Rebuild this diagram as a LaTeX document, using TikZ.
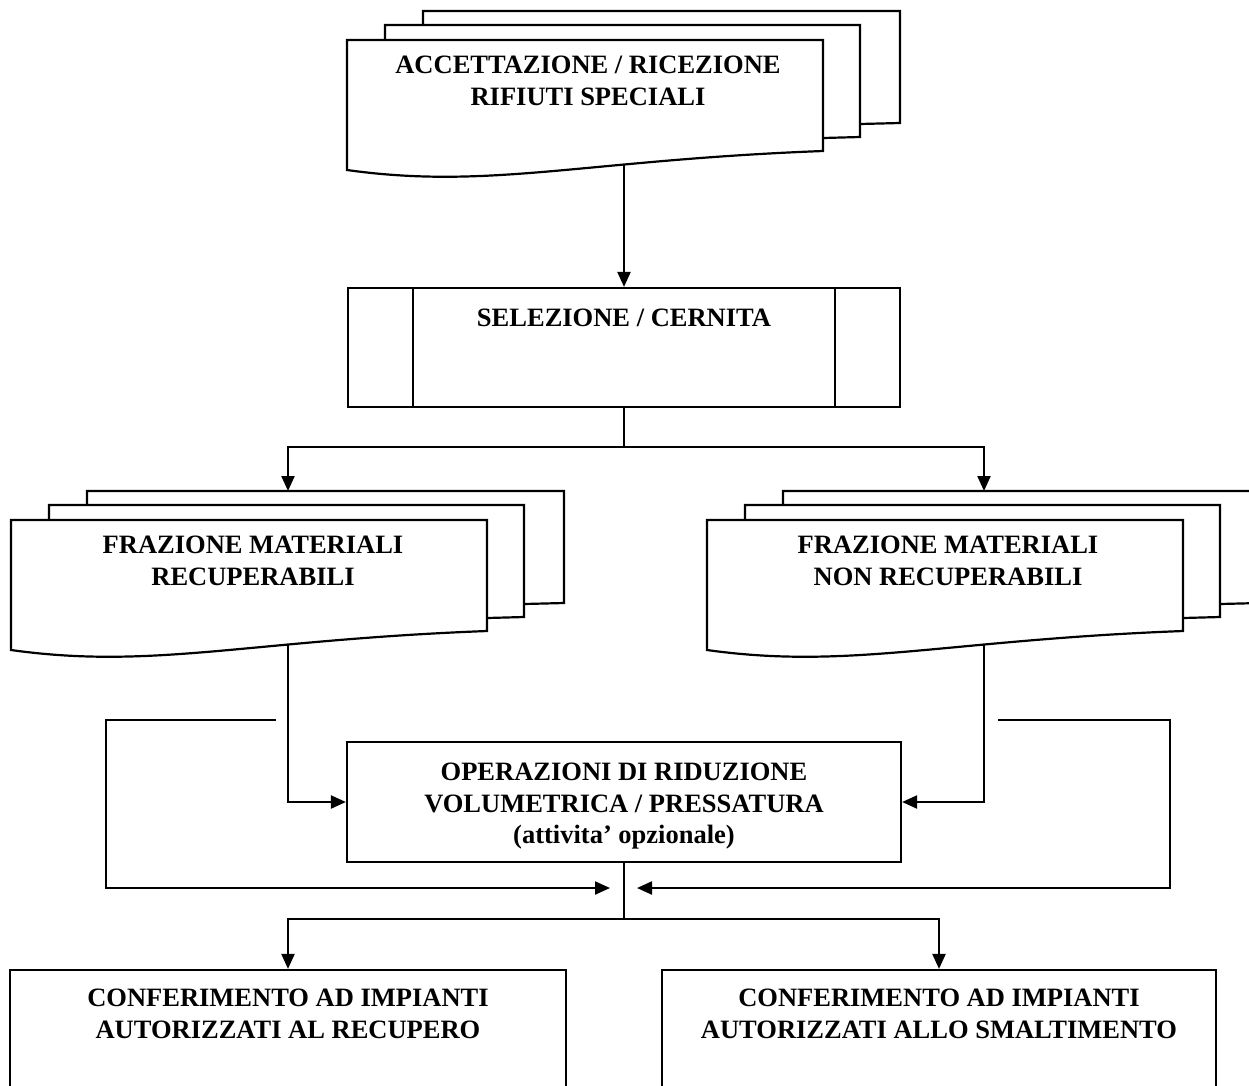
\documentclass[tikz,border=0pt]{standalone}
\usepackage{fontspec}
\setmainfont{Liberation Serif}
\usetikzlibrary{arrows.meta}
\tikzset{
  shp/.style={draw=black, fill=white, line width=2.2pt, line join=miter},
  con/.style={draw=black, line width=2.2pt},
  arr/.style={con, -{Triangle[length=15pt,width=13pt]}},
  lbl/.style={font=\bfseries\fontsize{26.5}{31.5}\selectfont, align=center, inner sep=0pt, anchor=north},
  boxn/.style={shp, rectangle, inner sep=0pt},
}
\newcommand\mdocstack[3]{%
  \begin{scope}[shift={(#1,#2)}]
    \path[shp] (76,-29) -- (553,-29) -- (553,83) -- (513,84) -- (76,84) -- cycle;
    \path[shp] (38,-15) -- (513,-15) -- (513,97) -- (476,98) -- (38,98) -- cycle;
    \path[shp] (0,0) -- (476,0) -- (476,111) .. controls (238,120) and (143,150) .. (0,130) -- cycle;
    \coordinate (#3top) at (277,-29);
    \coordinate (#3stem) at (277,124);
  \end{scope}}
\begin{document}
\begin{tikzpicture}[x=1pt,y=-1pt]
\useasboundingbox (0,0) rectangle (1249,1085);
\clip (0,0) rectangle (1249,1085);

% top document stack
\mdocstack{347}{40}{a}
\node[lbl] (ta) at (588,56) {ACCETTAZIONE / RICEZIONE\\RIFIUTI SPECIALI};

% selection box
\node[boxn, minimum width=552pt, minimum height=119pt] (sel) at (624,347.5) {};
\draw[con] ([xshift=66pt]sel.north west) -- ([xshift=66pt]sel.south west);
\draw[con] ([xshift=-66pt]sel.north east) -- ([xshift=-66pt]sel.south east);
\node[lbl] (tsel) at (624,309) {SELEZIONE / CERNITA};

% fraction stacks
\mdocstack{11}{520}{b}
\node[lbl] (tb) at (253,536) {FRAZIONE MATERIALI\\RECUPERABILI};
\mdocstack{707}{520}{c}
\node[lbl] (tc) at (948,536) {FRAZIONE MATERIALI\\NON RECUPERABILI};

% operations box
\node[boxn, minimum width=554pt, minimum height=120pt] (ops) at (624,802) {};
\node[lbl] (tops) at (624,763) {OPERAZIONI DI RIDUZIONE\\VOLUMETRICA / PRESSATURA\\(attivita’ opzionale)};

% bottom boxes
\node[boxn, minimum width=556pt, minimum height=240pt] (bl) at (288,1090) {};
\node[boxn, minimum width=554pt, minimum height=240pt] (br) at (939,1090) {};
\node[lbl] (tbl) at (288,989) {CONFERIMENTO AD IMPIANTI\\AUTORIZZATI AL RECUPERO};
\node[lbl] (tbr) at (939,989) {CONFERIMENTO AD IMPIANTI\\AUTORIZZATI ALLO SMALTIMENTO};

% connectors
\draw[arr] (astem) -- (astem |- sel.north);
\coordinate (s1) at (624,447);
\draw[con] (sel.south) -- (s1);
\draw[arr] (s1) -| (btop);
\draw[arr] (s1) -| (ctop);
\draw[arr] (bstem) |- (ops.west);
\draw[arr] (cstem) |- (ops.east);

\coordinate (l1) at (276,720);
\coordinate (l2) at (106,720);
\coordinate (l3) at (106,888);
\coordinate (lt) at (610,888);
\draw[arr, line join=miter] (l1) -- (l2) -- (l3) -- (lt);
\coordinate (r1) at (998,720);
\coordinate (r2) at (1170,720);
\coordinate (r3) at (1170,888);
\coordinate (rt) at (637,888);
\draw[arr, line join=miter] (r1) -- (r2) -- (r3) -- (rt);

\coordinate (s2) at (624,919);
\draw[con] (ops.south) -- (s2);
\draw[arr] (s2) -| (bl.north);
\draw[arr] (s2) -| (br.north);
\end{tikzpicture}
\end{document}
